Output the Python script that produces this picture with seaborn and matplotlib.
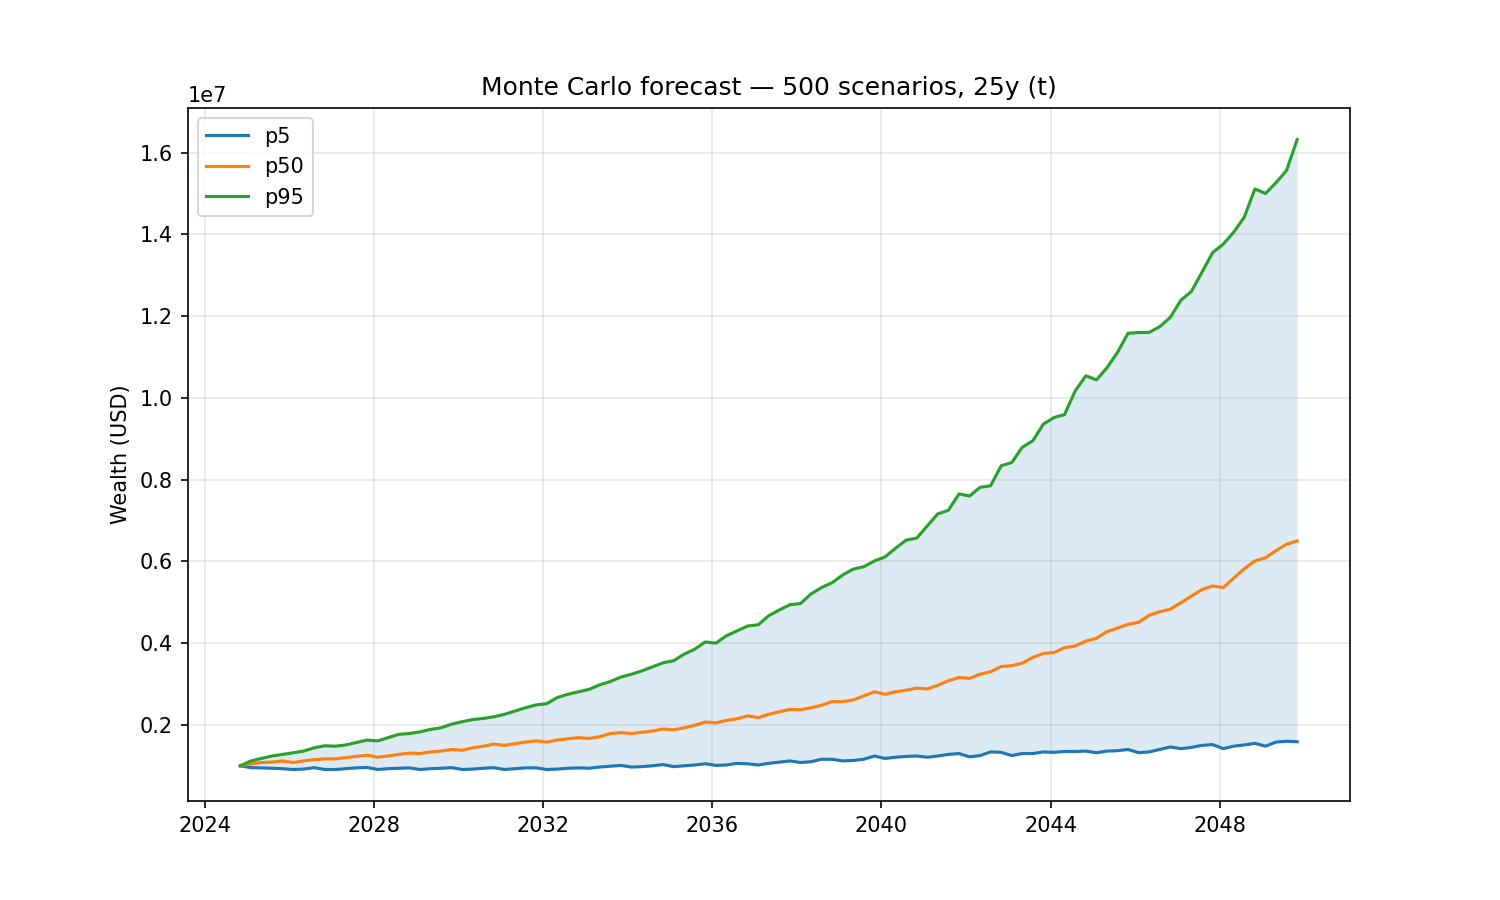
import pandas as pd
import numpy as np
import matplotlib
matplotlib.use("Agg")
import matplotlib.pyplot as plt
import matplotlib.dates as mdates
import seaborn as sns

# quarterly sample dates of the forecast (Nov 2024 .. Nov 2049)
dates = pd.date_range("2024-11-01", periods=101, freq="3MS")

# percentile paths, wealth in USD millions
p5 = [1.00, 0.955, 0.95, 0.94, 0.93, 0.91, 0.92, 0.955, 0.91, 0.91,
      0.93, 0.95, 0.96, 0.91, 0.93, 0.94, 0.95, 0.91, 0.93, 0.94,
      0.955, 0.91, 0.92, 0.94, 0.955, 0.91, 0.93, 0.95, 0.95, 0.91,
      0.92, 0.94, 0.95, 0.94, 0.97, 0.99, 1.01, 0.97, 0.98, 1.00,
      1.03, 0.98, 1.00, 1.02, 1.05, 1.01, 1.02, 1.06, 1.05, 1.02,
      1.06, 1.09, 1.12, 1.08, 1.10, 1.16, 1.16, 1.12, 1.13, 1.16,
      1.24, 1.18, 1.21, 1.23, 1.24, 1.21, 1.24, 1.28, 1.30, 1.22,
      1.25, 1.34, 1.33, 1.25, 1.30, 1.30, 1.34, 1.33, 1.35, 1.35,
      1.36, 1.32, 1.36, 1.37, 1.40, 1.32, 1.34, 1.40, 1.46, 1.42,
      1.45, 1.50, 1.52, 1.42, 1.48, 1.51, 1.55, 1.48, 1.58, 1.60,
      1.59]
p50 = [1.00, 1.05, 1.08, 1.09, 1.12, 1.08, 1.12, 1.15, 1.17, 1.17,
       1.20, 1.23, 1.26, 1.21, 1.24, 1.28, 1.31, 1.30, 1.34, 1.36,
       1.40, 1.38, 1.44, 1.48, 1.53, 1.50, 1.54, 1.58, 1.61, 1.58,
       1.63, 1.66, 1.69, 1.67, 1.71, 1.79, 1.81, 1.79, 1.82, 1.85,
       1.90, 1.88, 1.93, 1.99, 2.07, 2.05, 2.11, 2.15, 2.22, 2.18,
       2.26, 2.32, 2.38, 2.37, 2.42, 2.48, 2.57, 2.57, 2.61, 2.71,
       2.81, 2.75, 2.81, 2.85, 2.90, 2.88, 2.97, 3.08, 3.16, 3.14,
       3.24, 3.30, 3.43, 3.45, 3.51, 3.65, 3.75, 3.77, 3.89, 3.93,
       4.05, 4.12, 4.28, 4.37, 4.46, 4.51, 4.68, 4.77, 4.83, 4.99,
       5.15, 5.31, 5.40, 5.36, 5.59, 5.82, 6.01, 6.09, 6.26, 6.42,
       6.50]
p95 = [1.00, 1.12, 1.18, 1.24, 1.28, 1.32, 1.36, 1.44, 1.49, 1.48,
       1.51, 1.57, 1.63, 1.61, 1.69, 1.77, 1.79, 1.83, 1.89, 1.93,
       2.02, 2.08, 2.13, 2.16, 2.20, 2.26, 2.34, 2.42, 2.49, 2.52,
       2.67, 2.75, 2.81, 2.87, 2.98, 3.06, 3.17, 3.24, 3.32, 3.42,
       3.52, 3.57, 3.73, 3.85, 4.03, 4.00, 4.18, 4.30, 4.42, 4.45,
       4.67, 4.81, 4.94, 4.97, 5.20, 5.36, 5.48, 5.67, 5.81, 5.87,
       6.01, 6.11, 6.32, 6.52, 6.57, 6.87, 7.16, 7.25, 7.65, 7.60,
       7.81, 7.85, 8.34, 8.42, 8.79, 8.95, 9.36, 9.52, 9.59, 10.17,
       10.54, 10.44, 10.73, 11.11, 11.58, 11.60, 11.60, 11.74, 11.97, 12.39,
       12.60, 13.07, 13.55, 13.76, 14.05, 14.42, 15.11, 15.00, 15.26, 15.56,
       16.32]

df = pd.DataFrame({"date": dates,
                   "p5": np.array(p5) * 1e6,
                   "p50": np.array(p50) * 1e6,
                   "p95": np.array(p95) * 1e6})

fig, ax = plt.subplots(figsize=(10, 6), dpi=150)
ax.fill_between(df["date"], df["p5"], df["p95"], color="C0", alpha=0.15, linewidth=0)
sns.lineplot(data=df, x="date", y="p5", label="p5", color="C0", ax=ax)
sns.lineplot(data=df, x="date", y="p50", label="p50", color="C1", ax=ax)
sns.lineplot(data=df, x="date", y="p95", label="p95", color="C2", ax=ax)

ax.set_title("Monte Carlo forecast \u2014 500 scenarios, 25y (t)")
ax.set_xlabel("")
ax.set_ylabel("Wealth (USD)")
ax.xaxis.set_major_locator(mdates.YearLocator(4))
ax.xaxis.set_major_formatter(mdates.DateFormatter("%Y"))
ax.grid(True, alpha=0.3)
ax.legend(loc="upper left")

fig.savefig("out.png")
